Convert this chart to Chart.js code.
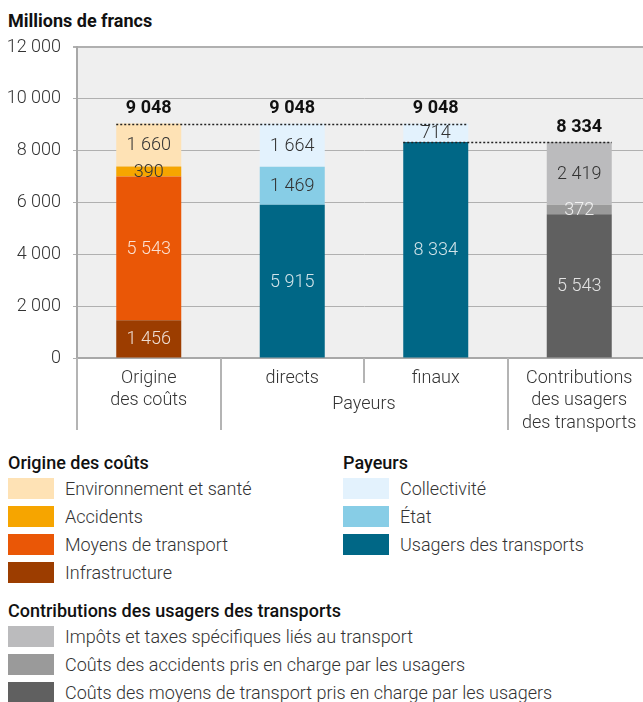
<!DOCTYPE html>
<html>
<head>
<meta charset="utf-8">
<script src="https://cdn.jsdelivr.net/npm/chart.js@4"></script>
<style>
  body { margin: 0; background: #fff; overflow: hidden; }
  #wrap { position: relative; width: 643px; height: 702px; overflow: hidden; font-family: Roboto, sans-serif; color: #333; }
  #title { position: absolute; left: 8px; top: 9px; font-size: 18px; font-weight: 700; color: #111; line-height: 24px; }
  canvas { position: absolute; left: 0; top: 0; }
  .grp { position: absolute; }
  .grp h4 { margin: 0; font-size: 18px; font-weight: 500; color: #111; line-height: 24px; height: 23.5px; white-space: nowrap; }
  .row { display: flex; align-items: center; height: 28px; }
  .sw { width: 46px; height: 21px; margin-right: 11px; flex: none; }
  .row span { font-size: 18px; font-weight: 300; line-height: 21px; white-space: nowrap; }
</style>
</head>
<body>
<div id="wrap">
  <div id="title">Millions de francs</div>
  <canvas id="chart" width="651" height="440"></canvas>
  <div id="legend"></div>
</div>
<script>
// ===== data =====
const categories = [["Origine", "des coûts"], "directs", "finaux", ["Contributions", "des usagers", "des transports"]];
const groupLabel = "Payeurs";
const yTicks = [0, 2000, 4000, 6000, 8000, 10000, 12000];

const infrastructure   = [1456, null, null, null];
const moyensTransport  = [5543, null, null, null];
const accidents        = [390, null, null, null];
const environnement    = [1660, null, null, null];
const usagers          = [null, 5915, 8334, null];
const etat             = [null, 1469, null, null];
const collectivite     = [null, 1664, 714, null];
const coutsMoyens      = [null, null, null, 5543];
const coutsAccidents   = [null, null, null, 372];
const impots           = [null, null, null, 2419];
const totals           = [9048, 9048, 9048, 8334];

const fmt = v => String(v).replace(/\B(?=(\d{3})+(?!\d))/g, " ");
const DARK = "#333", LIGHT = "rgba(255,255,255,0.82)";

const datasets = [
  { label: "Infrastructure", data: infrastructure, backgroundColor: "#9c3d00", txt: LIGHT, group: 0 },
  { label: "Moyens de transport", data: moyensTransport, backgroundColor: "#ea5706", txt: LIGHT, group: 0 },
  { label: "Accidents", data: accidents, backgroundColor: "#f6a500", txt: DARK, group: 0 },
  { label: "Environnement et santé", data: environnement, backgroundColor: "#fee2b5", txt: DARK, group: 0 },
  { label: "Usagers des transports", data: usagers, backgroundColor: "#006786", txt: LIGHT, group: 1 },
  { label: "État", data: etat, backgroundColor: "#87cde6", txt: DARK, group: 1 },
  { label: "Collectivité", data: collectivite, backgroundColor: "#e3f2fd", txt: DARK, group: 1 },
  { label: "Coûts des moyens de transport pris en charge par les usagers", data: coutsMoyens, backgroundColor: "#606060", txt: LIGHT, group: 2 },
  { label: "Coûts des accidents pris en charge par les usagers", data: coutsAccidents, backgroundColor: "#9a9a9a", txt: LIGHT, group: 2 },
  { label: "Impôts et taxes spécifiques liés au transport", data: impots, backgroundColor: "#bbbbbd", txt: DARK, group: 2 }
];
datasets.forEach(d => { d.borderWidth = 0; d.barPercentage = 0.453; d.categoryPercentage = 1; });

const groupTitles = ["Origine des coûts", "Payeurs", "Contributions des usagers des transports"];
const groupPos = [[8, 451], [343, 451], [8, 599]];

// ===== plugins =====
const plotBg = {
  id: "plotBg",
  beforeDraw(chart) {
    const { ctx, chartArea: a } = chart;
    ctx.save(); ctx.fillStyle = "#efefef";
    ctx.fillRect(a.left, a.top, a.right - a.left, a.bottom - a.top);
    ctx.restore();
  }
};

function barBox(chart, i) {
  // first dataset with a value in category i
  for (let d = 0; d < chart.data.datasets.length; d++) {
    if (chart.data.datasets[d].data[i] != null) {
      const el = chart.getDatasetMeta(d).data[i];
      return { x: el.x, w: el.width };
    }
  }
}

const annotations = {
  id: "annotations",
  afterDatasetsDraw(chart) {
    const { ctx, chartArea: a } = chart;
    const y = chart.scales.y;
    ctx.save();
    // segment values
    ctx.font = "300 18px Roboto";
    ctx.textAlign = "center"; ctx.textBaseline = "middle";
    chart.data.datasets.forEach((ds, d) => {
      chart.getDatasetMeta(d).data.forEach((el, i) => {
        if (ds.data[i] == null) return;
        ctx.fillStyle = ds.txt;
        ctx.fillText(fmt(ds.data[i]), el.x, (el.y + el.base) / 2 + 1);
      });
    });
    // dotted total lines
    const b = totals.map((t, i) => barBox(chart, i));
    ctx.strokeStyle = "#222"; ctx.lineWidth = 1.5; ctx.setLineDash([2, 2]);
    const dots = [[0, 2, totals[0]], [2, 3, totals[3]]];
    dots.forEach(([i0, i1, v]) => {
      const py = Math.round(y.getPixelForValue(v)) + 0.5;
      ctx.beginPath();
      ctx.moveTo(b[i0].x - b[i0].w / 2, py);
      ctx.lineTo(b[i1].x + b[i1].w / 2, py);
      ctx.stroke();
    });
    ctx.setLineDash([]);
    // totals
    ctx.font = "700 18px Roboto"; ctx.fillStyle = "#111";
    totals.forEach((t, i) => ctx.fillText(fmt(t), b[i].x, y.getPixelForValue(t) - 15));
    // category separators below axis
    const catW = (a.right - a.left) / categories.length;
    ctx.strokeStyle = "#b4b4b4"; ctx.lineWidth = 2;
    for (let i = 0; i < categories.length; i++) {
      const px = Math.round(a.left + i * catW);
      ctx.beginPath();
      ctx.moveTo(px, a.bottom);
      ctx.lineTo(px, i === 2 ? 383 : 430);
      ctx.stroke();
    }
    // group label
    ctx.font = "300 18px Roboto"; ctx.fillStyle = "#333";
    ctx.fillText(groupLabel, a.left + 2 * catW, 404);
    ctx.restore();
  }
};

// ===== chart =====
const chart = new Chart(document.getElementById("chart"), {
  type: "bar",
  data: { labels: categories, datasets },
  plugins: [plotBg, annotations],
  options: {
    responsive: false,
    animation: false,
    layout: { padding: { top: 47, left: 0, right: 0, bottom: 0 } },
    plugins: { legend: { display: false }, tooltip: { enabled: false } },
    scales: {
      x: {
        stacked: true,
        grid: { display: false, drawTicks: false },
        border: { display: true, color: "#a8a8a8", width: 2 },
        ticks: { color: "#333", font: { family: "Roboto", size: 18, weight: 300, lineHeight: 1.25 }, padding: 9, maxRotation: 0, autoSkip: false },
        afterFit: s => { s.height = 440 - 358; }
      },
      y: {
        stacked: true,
        min: 0, max: 12000,
        afterBuildTicks: s => { s.ticks = yTicks.map(v => ({ value: v })); },
        grid: {
          color: "#b0b0b0",
          lineWidth: c => (c.tick && c.tick.value === 12000 ? 2 : 1),
          tickLength: 4,
          drawTicks: true
        },
        border: { display: true, color: "#a8a8a8", width: 2 },
        ticks: { color: "#333", font: { family: "Roboto", size: 18, weight: 300 }, padding: 12, callback: v => fmt(v) },
        afterFit: s => { s.width = 77; }
      }
    }
  }
});

// ===== legend =====
const legend = document.getElementById("legend");
groupTitles.forEach((t, g) => {
  const div = document.createElement("div");
  div.className = "grp";
  div.style.left = groupPos[g][0] + "px";
  div.style.top = groupPos[g][1] + "px";
  let html = "<h4>" + t + "</h4>";
  datasets.filter(d => d.group === g).reverse().forEach(d => {
    html += '<div class="row"><div class="sw" style="background:' + d.backgroundColor + '"></div><span>' + d.label + "</span></div>";
  });
  div.innerHTML = html;
  legend.appendChild(div);
});
</script>
</body>
</html>
